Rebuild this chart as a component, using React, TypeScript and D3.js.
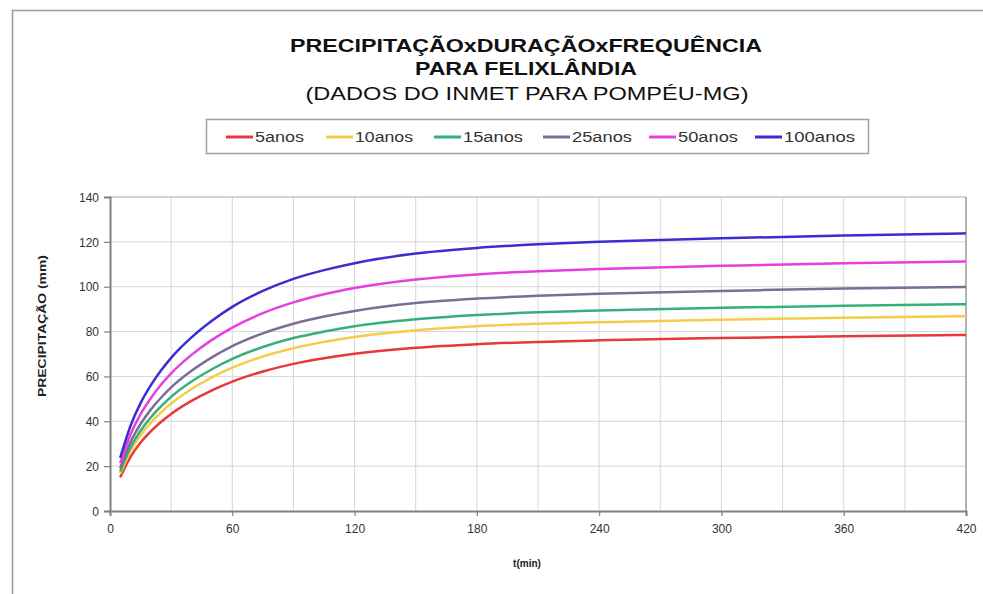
import { useEffect, useRef } from "react";
import * as d3 from "d3";

// durations (min)
const times = [5, 10, 15, 20, 25, 30, 40, 50, 60, 75, 90, 105, 120, 150, 180, 210, 240, 300, 360, 420];

// precipitation (mm) per return period
const p5 = [15, 24, 30.5, 35.5, 39.7, 43.3, 49.1, 53.8, 57.7, 62.2, 65.6, 68.1, 70.1, 72.8, 74.4, 75.4, 76.1, 77.1, 77.9, 78.5];
const p10 = [16.6, 26.6, 33.8, 39.3, 43.9, 47.9, 54.4, 59.6, 63.9, 68.9, 72.6, 75.4, 77.6, 80.6, 82.4, 83.5, 84.2, 85.3, 86.2, 86.9];
const p15 = [17.6, 28.2, 35.8, 41.7, 46.6, 50.9, 57.7, 63.2, 67.8, 73.1, 77.1, 80.0, 82.4, 85.5, 87.4, 88.6, 89.4, 90.6, 91.5, 92.2];
const p25 = [19.1, 30.6, 38.8, 45.2, 50.5, 55.1, 62.5, 68.5, 73.5, 79.2, 83.5, 86.7, 89.2, 92.7, 94.7, 96.0, 96.9, 98.1, 99.2, 99.9];
const p50 = [21.3, 34.0, 43.2, 50.3, 56.3, 61.4, 69.6, 76.3, 81.8, 88.2, 93.0, 96.6, 99.4, 103.2, 105.5, 106.9, 107.9, 109.3, 110.5, 111.3];
const p100 = [23.7, 37.8, 48.1, 56.0, 62.6, 68.3, 77.4, 84.8, 91.0, 98.1, 103.5, 107.4, 110.5, 114.8, 117.3, 118.9, 120.0, 121.6, 122.8, 123.8];

const seriesNames = ["5anos", "10anos", "15anos", "25anos", "50anos", "100anos"];
const seriesValues = [p5, p10, p15, p25, p50, p100];
const seriesColors = ["#e8383a", "#f5cc4a", "#35b07c", "#7a6e98", "#e83ee0", "#3a2ed2"];

const xTicks = [0, 60, 120, 180, 240, 300, 360, 420];
const xGrid = [30, 60, 90, 120, 150, 180, 210, 240, 270, 300, 330, 360, 390];
const yTicks = [0, 20, 40, 60, 80, 100, 120, 140];

const FONT = "'Liberation Sans', Arial, sans-serif";

export default function App() {
    const svgRef = useRef<SVGSVGElement | null>(null);

    useEffect(() => {
        if (!svgRef.current) return;
        const svg = d3.select(svgRef.current);
        svg.selectAll("*").remove();

        const width = 983;
        const height = 594;
        const left = 110, right = 966, top = 197, bottom = 511;

        const x = d3.scaleLinear().domain([0, 420]).range([left, right]);
        const y = d3.scaleLinear().domain([0, 140]).range([bottom, top]);

        svg.attr("width", width).attr("height", height);

        // background + outer frame (right/bottom run off the page)
        svg.append("rect").attr("width", width).attr("height", height).attr("fill", "#fff");
        svg.append("rect")
            .attr("x", 12.5).attr("y", 10.5)
            .attr("width", 1000).attr("height", 620)
            .attr("fill", "none").attr("stroke", "#9a9a9a").attr("stroke-width", 1.5);

        // title
        const title = svg.append("g").attr("font-family", FONT).attr("text-anchor", "middle").attr("fill", "#111");
        title.append("text").attr("x", 526).attr("y", 52).attr("font-size", 18).attr("font-weight", "bold")
            .attr("textLength", 472).attr("lengthAdjust", "spacingAndGlyphs")
            .text("PRECIPITAÇÃOxDURAÇÃOxFREQUÊNCIA");
        title.append("text").attr("x", 526).attr("y", 75).attr("font-size", 18).attr("font-weight", "bold")
            .attr("textLength", 222).attr("lengthAdjust", "spacingAndGlyphs")
            .text("PARA FELIXLÂNDIA");
        title.append("text").attr("x", 527).attr("y", 100).attr("font-size", 19)
            .attr("textLength", 443).attr("lengthAdjust", "spacingAndGlyphs")
            .text("(DADOS DO INMET PARA POMPÉU-MG)");

        // legend
        const legendX = [226, 326, 434, 543, 649, 755];
        const legendTextW = [49, 58, 60, 60, 60, 71];
        const lg = svg.append("g");
        lg.append("rect").attr("x", 206.5).attr("y", 119.5).attr("width", 662).attr("height", 34)
            .attr("fill", "#fff").attr("stroke", "#a0a0a0").attr("stroke-width", 1.5);
        seriesNames.forEach((name, i) => {
            const g = lg.append("g").attr("transform", `translate(${legendX[i]},137)`);
            g.append("line").attr("x1", 0).attr("x2", 27).attr("y1", 0).attr("y2", 0)
                .attr("stroke", seriesColors[i]).attr("stroke-width", 3);
            g.append("text").attr("x", 29).attr("y", 5).attr("font-family", FONT).attr("font-size", 14)
                .attr("fill", "#333").attr("textLength", legendTextW[i]).attr("lengthAdjust", "spacingAndGlyphs")
                .text(name);
        });

        // grid
        const grid = svg.append("g").attr("stroke", "#d6d6d6").attr("stroke-width", 1);
        grid.selectAll(".vg").data(xGrid).enter().append("line")
            .attr("x1", (d) => x(d)).attr("x2", (d) => x(d)).attr("y1", top).attr("y2", bottom);
        grid.selectAll(".hg").data(yTicks.filter((d) => d > 0 && d < 140)).enter().append("line")
            .attr("x1", left).attr("x2", right).attr("y1", (d) => y(d)).attr("y2", (d) => y(d));

        // plot frame
        svg.append("line").attr("x1", left).attr("x2", right).attr("y1", top).attr("y2", top)
            .attr("stroke", "#c4c4c4").attr("stroke-width", 1.5);
        svg.append("line").attr("x1", right).attr("x2", right).attr("y1", top).attr("y2", bottom)
            .attr("stroke", "#9a9a9a").attr("stroke-width", 1.5);

        // axes
        const xAxis = d3.axisBottom(x).tickValues(xTicks).tickSize(5).tickPadding(8).tickFormat(d3.format("d"));
        const yAxis = d3.axisLeft(y).tickValues(yTicks).tickSize(6).tickPadding(5).tickFormat(d3.format("d"));
        const gx = svg.append("g").attr("transform", `translate(0,${bottom})`).call(xAxis);
        const gy = svg.append("g").attr("transform", `translate(${left},0)`).call(yAxis);
        [gx, gy].forEach((g) => {
            g.select(".domain").attr("stroke", "#808080").attr("stroke-width", 2);
            g.selectAll(".tick line").attr("stroke", "#808080").attr("stroke-width", 1.2);
            g.selectAll(".tick text").attr("font-family", FONT).attr("font-size", 12).attr("fill", "#333");
        });
        gy.selectAll(".tick text").attr("dy", "0.35em");

        // axis titles
        svg.append("text").attr("x", 527).attr("y", 567).attr("text-anchor", "middle")
            .attr("font-family", FONT).attr("font-size", 10).attr("font-weight", "bold").attr("fill", "#222")
            .text("t(min)");
        svg.append("text").attr("transform", "translate(46,326) rotate(-90)").attr("text-anchor", "middle")
            .attr("font-family", FONT).attr("font-size", 10.5).attr("font-weight", "bold").attr("fill", "#222")
            .attr("textLength", 142).attr("lengthAdjust", "spacingAndGlyphs")
            .text("PRECIPITAÇÃO (mm)");

        // curves
        const line = d3.line<number>()
            .x((_, i) => x(times[i]))
            .y((d) => y(d))
            .curve(d3.curveMonotoneX);
        svg.append("g").selectAll("path").data(seriesValues).enter().append("path")
            .attr("d", (d) => line(d) as string)
            .attr("fill", "none")
            .attr("stroke", (_, i) => seriesColors[i])
            .attr("stroke-width", 2.5)
            .attr("stroke-linejoin", "round");
    }, []);

    return <svg ref={svgRef} style={{ position: "absolute", left: 0, top: 0, display: "block" }} />;
}
